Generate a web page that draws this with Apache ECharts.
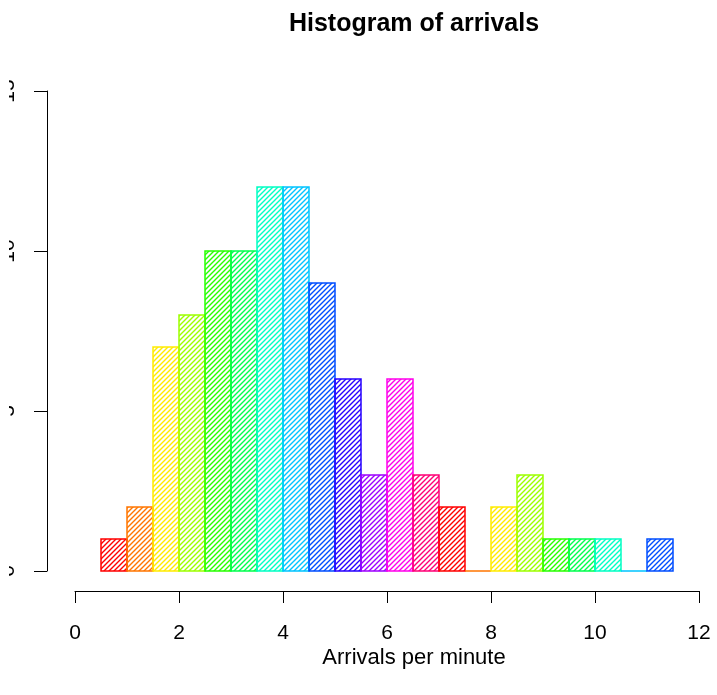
<!DOCTYPE html>
<html>
<head>
<meta charset="utf-8">
<script src="https://cdn.jsdelivr.net/npm/echarts@6/dist/echarts.min.js"></script>
<style>
html,body{margin:0;padding:0;background:#fff;}
#main{width:717px;height:695px;}
</style>
</head>
<body>
<div id="main"></div>
<script>
// histogram bins (right-closed, width 0.5) and their counts
var breaks = [0.5, 1, 1.5, 2, 2.5, 3, 3.5, 4, 4.5, 5, 5.5, 6, 6.5, 7, 7.5, 8, 8.5, 9, 9.5, 10, 10.5, 11, 11.5];
var counts = [1, 2, 7, 8, 10, 10, 12, 12, 9, 6, 3, 6, 3, 2, 0, 2, 3, 1, 1, 1, 0, 1];
var xTicks = [0, 2, 4, 6, 8, 10, 12];
var yTicks = [0, 5, 10, 15];
// rainbow(13), recycled over the bars
var palette = ['#FF0000', '#FF7600', '#FFEB00', '#9DFF00', '#27FF00', '#00FF4E', '#00FFC4',
               '#00C4FF', '#004EFF', '#2700FF', '#9D00FF', '#FF00EB', '#FF0076'];

var FONT = 'Liberation Sans, Arial, Helvetica, sans-serif';

// diagonal hatch like R's density/angle shading
var patterns = {};
function hatch(col) {
  if (patterns[col]) return patterns[col];
  var s = 5;
  var cv = document.createElement('canvas');
  cv.width = s; cv.height = s;
  var ctx = cv.getContext('2d');
  ctx.strokeStyle = col;
  ctx.lineWidth = 1.4;
  ctx.beginPath();
  ctx.moveTo(-1, s + 1); ctx.lineTo(s + 1, -1);
  ctx.moveTo(-1, 1); ctx.lineTo(1, -1);
  ctx.moveTo(s - 1, s + 1); ctx.lineTo(s + 1, s - 1);
  ctx.stroke();
  patterns[col] = {image: cv, repeat: 'repeat'};
  return patterns[col];
}

var bins = [];
for (var i = 0; i < counts.length; i++) {
  bins.push([breaks[i], breaks[i + 1], counts[i]]);
}

var myChart = echarts.init(document.getElementById('main'));

var option = {
  backgroundColor: '#fff',
  animation: false,
  title: [{
    text: 'Histogram of arrivals',
    left: 409,
    top: 7,
    textAlign: 'center',
    textStyle: {fontFamily: FONT, fontWeight: 'bold', fontSize: 25, color: '#000'}
  }, {
    text: 'Arrivals per minute',
    left: 409,
    top: 642,
    textAlign: 'center',
    textStyle: {fontFamily: FONT, fontWeight: 'normal', fontSize: 22, color: '#000'}
  }],
  grid: {left: 75, right: 18, top: 91, bottom: 124, containLabel: false, outerBoundsMode: 'none'},
  xAxis: {
    type: 'value',
    min: xTicks[0],
    max: xTicks[xTicks.length - 1],
    interval: xTicks[1] - xTicks[0],
    offset: 20,
    splitLine: {show: false},
    axisLine: {onZero: false, lineStyle: {color: '#000', width: 1}},
    axisTick: {length: 12, lineStyle: {color: '#000'}},
    axisLabel: {margin: 32, fontFamily: FONT, fontSize: 21, color: '#000'}
  },
  yAxis: {
    type: 'value',
    min: yTicks[0],
    max: yTicks[yTicks.length - 1],
    interval: yTicks[1] - yTicks[0],
    offset: 28,
    splitLine: {show: false},
    axisLine: {show: true, onZero: false, lineStyle: {color: '#000', width: 1}},
    axisTick: {show: true, length: 13, lineStyle: {color: '#000'}},
    axisLabel: {rotate: 90, margin: 28, fontFamily: FONT, fontSize: 21, color: '#000'}
  },
  // the source picture is cropped at its left edge, cutting the y labels
  graphic: [{
    type: 'rect',
    left: 0,
    top: 40,
    z: 100,
    shape: {width: 9, height: 580},
    style: {fill: '#fff'}
  }],
  series: [{
    type: 'custom',
    data: bins,
    encode: {x: [0, 1], y: 2},
    renderItem: function (params, api) {
      var p0 = api.coord([api.value(0), api.value(2)]);
      var p1 = api.coord([api.value(1), 0]);
      var c = palette[params.dataIndex % palette.length];
      return {
        type: 'rect',
        shape: {x: p0[0], y: p0[1], width: p1[0] - p0[0], height: p1[1] - p0[1]},
        style: {fill: hatch(c), stroke: c, lineWidth: 1.5}
      };
    }
  }]
};

myChart.setOption(option);
</script>
</body>
</html>
